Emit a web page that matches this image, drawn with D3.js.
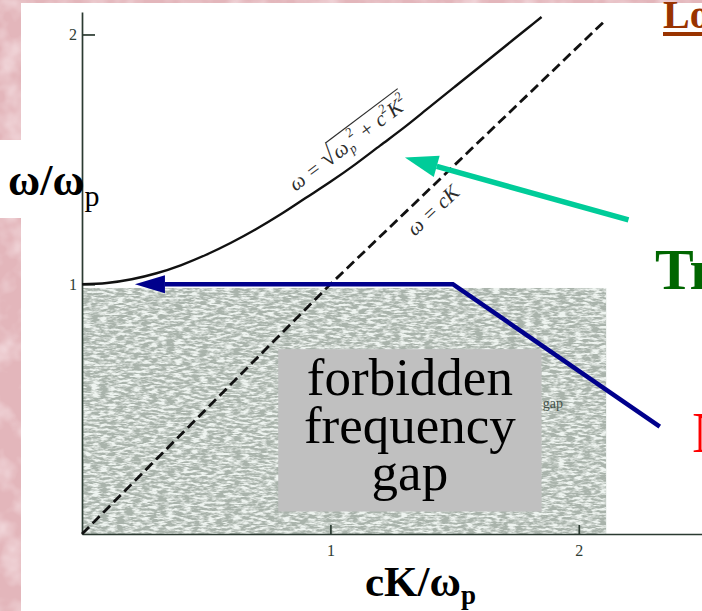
<!DOCTYPE html>
<html><head><meta charset="utf-8">
<script src="https://cdn.jsdelivr.net/npm/d3@7/dist/d3.min.js"></script>
<style>html,body{margin:0;padding:0;background:#e4b8bd;overflow:hidden}</style>
</head><body>
<svg id="c" width="702" height="611" xmlns="http://www.w3.org/2000/svg"></svg>
<script>
// ---- data ----
const xTicks = [1, 2];
const yTicks = [1, 2];
const curveK = [0, 0.1, 0.2, 0.3, 0.4, 0.5, 0.6, 0.7, 0.8, 0.9, 1.0, 1.1, 1.2, 1.3, 1.4, 1.5, 1.6, 1.7, 1.8, 1.85];
const curveW = [1.0, 1.005, 1.02, 1.044, 1.077, 1.118, 1.166, 1.22, 1.28, 1.345, 1.41, 1.48, 1.555, 1.63, 1.71, 1.79, 1.87, 1.95, 2.03, 2.07];
const lightK = [0, 1.0, 2.1];
const lightW = [0, 1.0, 2.05];
const gapTop = 0.985, gapRight = 2.11;
const gapLines = ["forbidden", "frequency", "gap"];

const svg = d3.select('#c');
const W = 702, H = 611;
const x = d3.scaleLinear().domain([0, 2.5]).range([82, 703]);
const y = d3.scaleLinear().domain([0, 2.09]).range([534, 12]);

const defs = svg.append('defs');
const fp = defs.append('filter').attr('id', 'pinkTex').attr('x', 0).attr('y', 0).attr('width', 1).attr('height', 1);
fp.append('feTurbulence').attr('type', 'fractalNoise').attr('baseFrequency', '0.035').attr('numOctaves', 3).attr('seed', 7).attr('result', 'n');
fp.append('feColorMatrix').attr('in', 'n').attr('type', 'matrix')
  .attr('values', '0 0 0 0 0.96  0 0 0 0 0.84  0 0 0 0 0.86  1.6 0 0 0 -0.7');
fp.append('feComposite').attr('operator', 'in').attr('in2', 'SourceGraphic');

const fg = defs.append('filter').attr('id', 'grayTex').attr('x', 0).attr('y', 0).attr('width', 1).attr('height', 1);
fg.append('feTurbulence').attr('type', 'fractalNoise').attr('baseFrequency', '0.12 0.45').attr('numOctaves', 3).attr('seed', 3).attr('result', 'n');
fg.append('feColorMatrix').attr('in', 'n').attr('type', 'matrix')
  .attr('values', '0 0 0 0 0.86  0 0 0 0 0.9  0 0 0 0 0.87  3.4 0 0 0 -1.3');
fg.append('feComposite').attr('operator', 'in').attr('in2', 'SourceGraphic');

// background: pink marble + white panel
svg.append('rect').attr('width', W).attr('height', H).attr('fill', '#e3b6bb');
svg.append('rect').attr('width', W).attr('height', H).attr('fill', '#fff').attr('filter', 'url(#pinkTex)');
svg.append('rect').attr('x', 21).attr('y', 3).attr('width', W - 21).attr('height', H - 3).attr('fill', '#ffffff');
svg.append('rect').attr('x', 0).attr('y', 140).attr('width', 24).attr('height', 78).attr('fill', '#ffffff');

// shaded forbidden region
const gx0 = x(0), gx1 = x(gapRight), gy0 = y(gapTop), gy1 = y(0);
svg.append('rect').attr('x', gx0).attr('y', gy0).attr('width', gx1 - gx0).attr('height', gy1 - gy0).attr('fill', '#a9b3ab');
svg.append('rect').attr('x', gx0).attr('y', gy0).attr('width', gx1 - gx0).attr('height', gy1 - gy0).attr('fill', '#fff').attr('filter', 'url(#grayTex)');

// small original "gap" label
svg.append('text').attr('x', x(1.855)).attr('y', y(0.505)).text('gap')
  .attr('font-family', 'Liberation Serif').attr('font-size', 14).attr('fill', '#44524a');

// axes
const axStyle = g => {
  g.selectAll('path, line').attr('stroke', '#2b3a31').attr('stroke-width', 1.7);
  g.selectAll('text').attr('font-family', 'Liberation Serif').attr('font-size', 16).attr('fill', '#2e3d34');
};
svg.append('g').attr('transform', `translate(${x(0)},0)`)
  .call(d3.axisLeft(y).tickValues(yTicks).tickFormat(d3.format('d')).tickSizeInner(-13).tickSizeOuter(0).tickPadding(5))
  .call(axStyle);
svg.append('g').attr('transform', `translate(0,${y(0)})`)
  .call(d3.axisBottom(x).tickValues(xTicks).tickFormat(d3.format('d')).tickSizeInner(-9).tickSizeOuter(0).tickPadding(11))
  .call(axStyle);

// curves
const line = d3.line().x(d => x(d[0])).y(d => y(d[1])).curve(d3.curveCatmullRom);
svg.append('path').datum(curveK.map((k, i) => [k, curveW[i]])).attr('d', line)
  .attr('fill', 'none').attr('stroke', '#111').attr('stroke-width', 2.4);
svg.append('path').datum(lightK.map((k, i) => [k, lightW[i]])).attr('d', d3.line().x(d => x(d[0])).y(d => y(d[1])))
  .attr('fill', 'none').attr('stroke', '#111').attr('stroke-width', 2.8).attr('stroke-dasharray', '10,5');

// rotated curve labels
function eqLabel(k, w, ang, build) {
  const g = svg.append('g').attr('transform', `translate(${x(k)},${y(w)}) rotate(${ang})`);
  build(g);
}
const lblFont = 'Liberation Serif';
const FS = 21, FSs = 13;
eqLabel(0.86, 1.37, -37, g => {
  const t1 = g.append('text').attr('font-family', lblFont).attr('font-size', FS).attr('font-style', 'italic').attr('fill', '#2c2c2c');
  t1.append('tspan').text('ω = ');
  t1.append('tspan').attr('font-style', 'normal').attr('font-size', 26).text('√');
  const l1 = t1.node().getComputedTextLength();
  const t2 = g.append('text').attr('x', l1).attr('font-family', lblFont).attr('font-size', FS).attr('font-style', 'italic').attr('fill', '#2c2c2c');
  t2.append('tspan').text('ω');
  t2.append('tspan').attr('font-size', FSs).attr('dy', 4).text('p');
  t2.append('tspan').attr('font-size', FSs).attr('dy', -15).text('2');
  t2.append('tspan').attr('dy', 11).text(' + c');
  t2.append('tspan').attr('font-size', FSs).attr('dy', -10).text('2');
  t2.append('tspan').attr('dy', 10).text('K');
  t2.append('tspan').attr('font-size', FSs).attr('dy', -10).text('2');
  const l2 = t2.node().getComputedTextLength();
  g.append('line').attr('x1', l1 - 1).attr('x2', l1 + l2 + 1).attr('y1', -21).attr('y2', -21).attr('stroke', '#2c2c2c').attr('stroke-width', 1.2);
});
eqLabel(1.34, 1.19, -43, g => {
  g.append('text').attr('font-family', lblFont).attr('font-size', FS).attr('font-style', 'italic').attr('fill', '#2c2c2c').text('ω = cK');
});

// grey annotation box
const bx0 = x(0.79), bx1 = x(1.85), by0 = y(0.74), by1 = y(0.09);
svg.append('rect').attr('x', bx0).attr('y', by0).attr('width', bx1 - bx0).attr('height', by1 - by0).attr('fill', '#c0c0c0');
svg.append('g').selectAll('text').data(gapLines).join('text')
  .attr('x', (bx0 + bx1) / 2).attr('y', (d, i) => by0 + 46 + i * 47.5)
  .attr('text-anchor', 'middle').attr('font-family', 'Liberation Serif').attr('font-size', 53).attr('fill', '#000')
  .text(d => d);

// arrows
function arrow(pts, color, width, headLen, headHalf) {
  const p = pts.map(d => [x(d[0]), y(d[1])]);
  const tip = p[p.length - 1], prev = p[p.length - 2];
  const dx = tip[0] - prev[0], dy = tip[1] - prev[1], L = Math.hypot(dx, dy);
  const ux = dx / L, uy = dy / L;
  const base = [tip[0] - ux * headLen, tip[1] - uy * headLen];
  const lp = p.slice(0, -1).concat([base]);
  svg.append('path').attr('d', d3.line()(lp)).attr('fill', 'none').attr('stroke', color).attr('stroke-width', width).attr('stroke-linejoin', 'miter');
  svg.append('path').attr('d', d3.line()([tip, [base[0] - uy * headHalf, base[1] + ux * headHalf], [base[0] + uy * headHalf, base[1] - ux * headHalf]]) + 'Z').attr('fill', color);
}
arrow([[2.326, 0.43], [1.493, 1.0], [0.213, 1.0]], '#00008c', 4.5, 30, 9);
arrow([[2.20, 1.258], [1.30, 1.507]], '#00cc99', 5.5, 33, 11);

// axis titles
const yl = svg.append('text').attr('x', 8).attr('y', 195).attr('font-family', 'Liberation Serif').attr('font-weight', 'bold').attr('font-size', 44).attr('fill', '#000');
yl.append('tspan').text('ω/ω');
yl.append('tspan').attr('font-size', 30).attr('font-weight', 'normal').attr('dy', 11).text('p');
const xl = svg.append('text').attr('x', 365).attr('y', 596).attr('font-family', 'Liberation Serif').attr('font-weight', 'bold').attr('font-size', 43).attr('fill', '#000');
xl.append('tspan').text('cK/ω');
xl.append('tspan').attr('font-size', 27).attr('dy', 8).text('p');

// partial slide headings on the right
svg.append('text').attr('x', 663).attr('y', 28).attr('font-family', 'Liberation Serif').attr('font-weight', 'bold').attr('font-size', 40).attr('fill', '#993300').text('Lo');
svg.append('rect').attr('x', 663).attr('y', 32).attr('width', 40).attr('height', 4).attr('fill', '#993300');
svg.append('text').attr('x', 655).attr('y', 289).attr('font-family', 'Liberation Serif').attr('font-weight', 'bold').attr('font-size', 58).attr('fill', '#006600').text('Tr');
svg.append('text').attr('x', 692).attr('y', 452).attr('font-family', 'Liberation Serif').attr('font-size', 58).attr('fill', '#ff0000').text('N');
</script>
</body></html>
